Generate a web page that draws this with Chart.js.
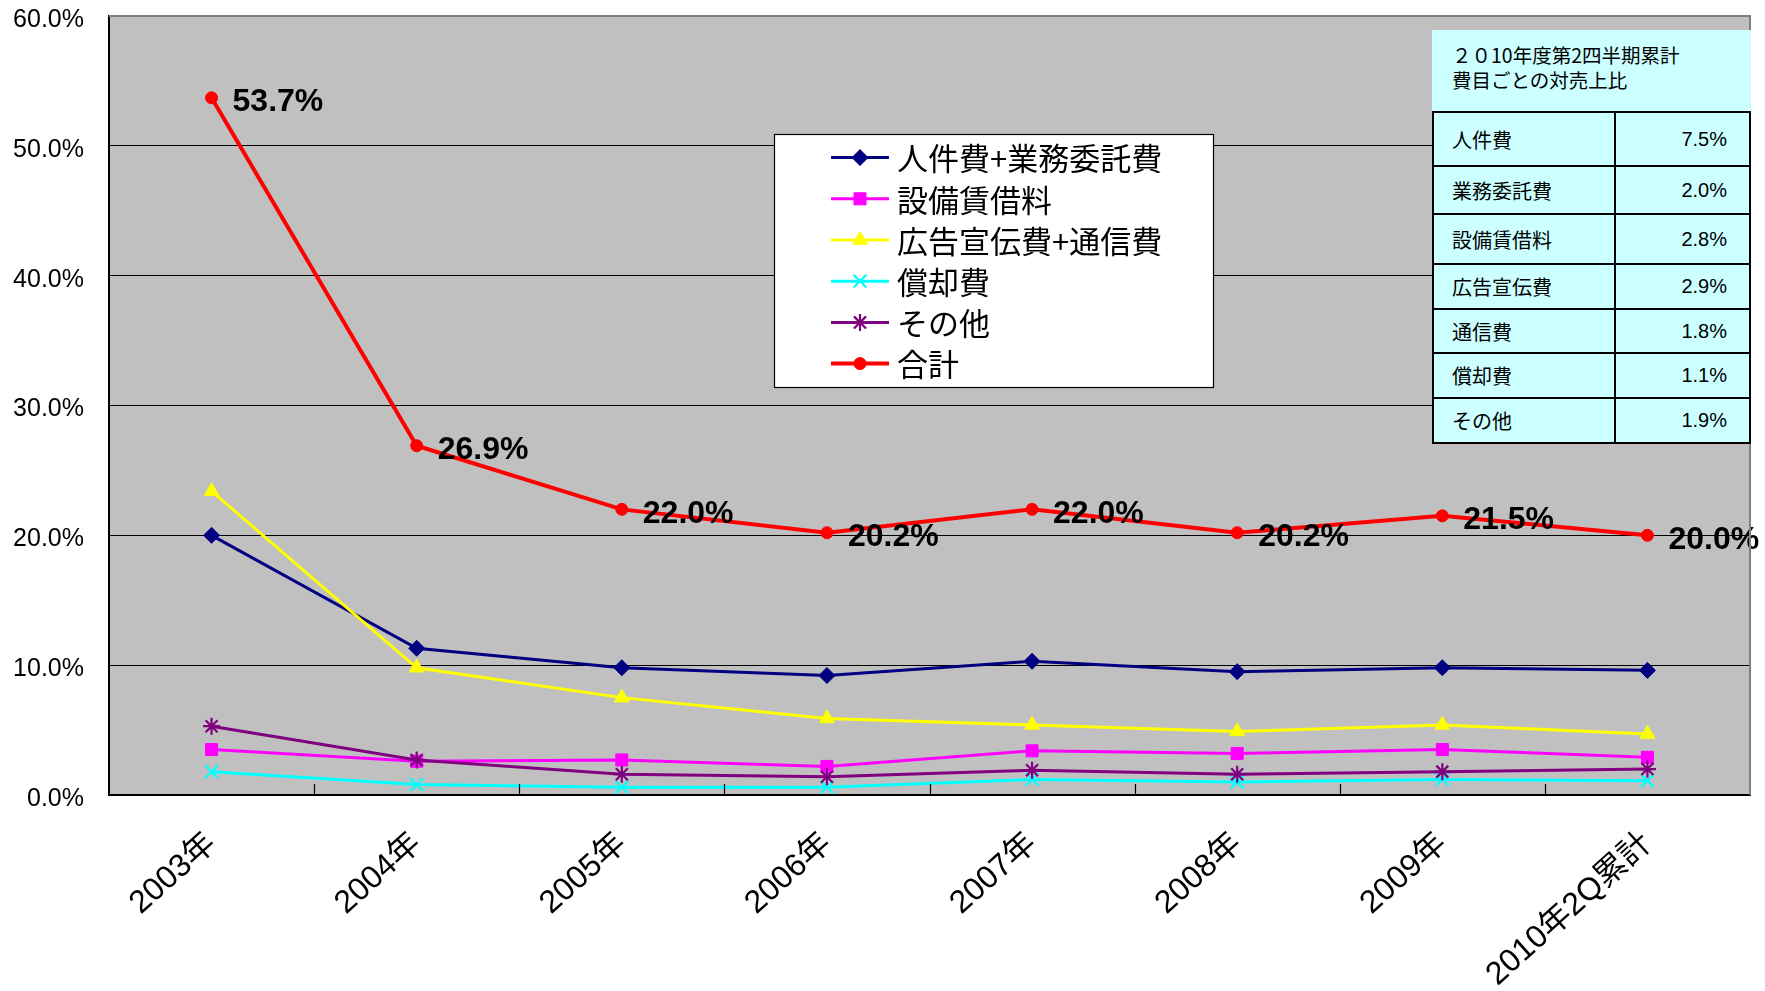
<!DOCTYPE html>
<html><head><meta charset="utf-8">
<script src="https://cdn.jsdelivr.net/npm/chart.js@4.4.1/dist/chart.umd.min.js"></script>
<style>
html,body{margin:0;padding:0;background:#fff;}
#wrap{position:relative;width:1765px;height:991px;}
#c{position:absolute;left:0;top:0;}
#tbl{position:absolute;left:1432px;top:30px;width:319px;font-family:"Noto Sans CJK JP",sans-serif;color:#000;}
#hdr{background:#CCFFFF;height:81px;box-sizing:border-box;padding:12px 0 0 20px;font-size:19.5px;line-height:25px;}
table{border-collapse:collapse;width:319px;background:#CCFFFF;}
td{border:2px solid #000;font-size:20px;padding:0;}
td.l{padding-left:18px;width:162px;}
td.v{text-align:right;padding-right:22px;font-family:"Liberation Sans",Arial,sans-serif;font-size:20px;}
</style></head><body>
<div id="wrap">
<canvas id="c" width="1765" height="991"></canvas>
<div id="tbl"><div id="hdr">２０10年度第2四半期累計<br>費目ごとの対売上比</div><table id="t"></table></div>
</div>
<script>
const categories = ["2003年","2004年","2005年","2006年","2007年","2008年","2009年","2010年2Q累計"];
const seriesNames = ["人件費+業務委託費","設備賃借料","広告宣伝費+通信費","償却費","その他","合計"];
const personnel = [20.0, 11.3, 9.8, 9.2, 10.3, 9.5, 9.8, 9.6];
const equipment = [3.5, 2.6, 2.7, 2.2, 3.4, 3.2, 3.5, 2.9];
const advertising = [23.4, 9.8, 7.5, 5.9, 5.4, 4.9, 5.4, 4.7];
const depreciation = [1.8, 0.8, 0.6, 0.6, 1.2, 1.0, 1.2, 1.1];
const others = [5.3, 2.7, 1.6, 1.4, 1.9, 1.6, 1.8, 2.0];
const total = [53.7, 26.9, 22.0, 20.2, 22.0, 20.2, 21.5, 20.0];
const yTicks = [0, 10, 20, 30, 40, 50, 60];
const tableLabels = ["人件費","業務委託費","設備賃借料","広告宣伝費","通信費","償却費","その他"];
const tableValues = ["7.5%","2.0%","2.8%","2.9%","1.8%","1.1%","1.9%"];

// table
const rowH = [54,48,50,45,44,45,45];
const t = document.getElementById('t');
tableLabels.forEach((lab,i)=>{
  const tr = document.createElement('tr');
  tr.style.height = rowH[i]+'px';
  const a = document.createElement('td'); a.className='l'; a.textContent = lab;
  const b = document.createElement('td'); b.className='v'; b.textContent = tableValues[i];
  tr.appendChild(a); tr.appendChild(b); t.appendChild(tr);
});

const colors = ["#000080","#FF00FF","#FFFF00","#00FFFF","#800080","#FF0000"];
const styles = ["rectRot","rect","triangle","crossRot","star","circle"];
const radii = [8,8.5,8.5,9,8.5,6];
const widths = [3,3,3,3,3,4];
const pbw = [1,1,1,2.2,2.2,1];
const allData = [personnel, equipment, advertising, depreciation, others, total];

const datasets = allData.map((d,i)=>({
  label: seriesNames[i], data: d,
  borderColor: colors[i], backgroundColor: colors[i],
  pointBorderColor: colors[i], pointBackgroundColor: colors[i],
  borderWidth: widths[i], pointStyle: styles[i], pointRadius: radii[i],
  pointBorderWidth: pbw[i],
  tension: 0, order: 6-i
}));

const bgPlugin = {
  id:'bg',
  beforeDraw(chart){
    const {ctx, chartArea:a} = chart;
    ctx.save(); ctx.fillStyle='#C0C0C0';
    ctx.fillRect(a.left,a.top,a.right-a.left,a.bottom-a.top);
    ctx.restore();
  },
  afterDraw(chart){
    const {ctx, chartArea:a} = chart;
    ctx.save();
    ctx.strokeStyle='#808080'; ctx.lineWidth=2;
    ctx.beginPath(); ctx.moveTo(a.left,a.top); ctx.lineTo(a.right,a.top); ctx.lineTo(a.right,a.bottom); ctx.stroke();
    const xs = chart.scales.x;
    const sp = xs.getPixelForValue(1)-xs.getPixelForValue(0);
    ctx.strokeStyle='#000'; ctx.lineWidth=1.2;
    for(let i=1;i<categories.length;i++){
      const x = Math.round(xs.getPixelForValue(i)-sp/2)+0.5;
      ctx.beginPath(); ctx.moveTo(x,a.bottom); ctx.lineTo(x,a.bottom-11); ctx.stroke();
    }
    ctx.restore();
  }
};

const labelPlugin = {
  id:'lbl',
  afterDatasetsDraw(chart){
    const ctx = chart.ctx;
    const meta = chart.getDatasetMeta(5);
    ctx.save();
    ctx.font = 'bold 32px "Liberation Sans", Arial, sans-serif';
    ctx.fillStyle='#000'; ctx.textAlign='left'; ctx.textBaseline='middle';
    meta.data.forEach((p,i)=>{
      ctx.fillText(total[i].toFixed(1)+'%', p.x+21, p.y+4.5);
    });
    ctx.restore();
  }
};

const legendPlugin = {
  id:'leg',
  afterDraw(chart){
    const ctx = chart.ctx;
    const bx=774, by=134, bw=439, bh=253;
    ctx.save();
    ctx.fillStyle='#fff'; ctx.fillRect(bx,by,bw,bh);
    ctx.strokeStyle='#000'; ctx.lineWidth=1.2; ctx.strokeRect(bx+0.5,by+0.5,bw,bh);
    ctx.font = '31px "Noto Sans CJK JP", sans-serif';
    ctx.textBaseline='middle'; ctx.textAlign='left';
    seriesNames.forEach((n,i)=>{
      const y = 157.6 + i*41.2;
      ctx.strokeStyle=colors[i]; ctx.lineWidth=widths[i];
      ctx.beginPath(); ctx.moveTo(831,y); ctx.lineTo(889,y); ctx.stroke();
      ctx.fillStyle=colors[i]; ctx.strokeStyle=colors[i];
      ctx.lineWidth=pbw[i];
      Chart.helpers.drawPoint(ctx,{pointStyle:styles[i],radius:radii[i],borderWidth:pbw[i],rotation:0},860,y);
      ctx.fillStyle='#000';
      ctx.fillText(n,897,y+1);
    });
    ctx.restore();
  }
};

new Chart(document.getElementById('c'),{
  type:'line',
  data:{labels:categories, datasets},
  options:{
    responsive:false, animation:false,
    layout:{padding:{top:16,right:15,left:0,bottom:0}},
    plugins:{legend:{display:false}, tooltip:{enabled:false}},
    scales:{
      x:{
        offset:true,
        grid:{display:false, drawTicks:false},
        border:{color:'#000', width:2},
        ticks:{color:'#000', autoSkip:false, maxRotation:42, minRotation:42, padding:30,
          font:{family:'"Liberation Sans", "Noto Sans CJK JP", sans-serif', size:32}},
        afterFit(s){ s.height = 196; }
      },
      y:{
        min:0, max:60,
        afterBuildTicks(s){ s.ticks = yTicks.map(v=>({value:v})); },
        grid:{color:'#000', lineWidth:1, drawTicks:true, tickLength:25, tickColor:'rgba(0,0,0,0)'},
        border:{color:'#000', width:2},
        ticks:{color:'#000', padding:0, labelOffset:4, callback:v=>v.toFixed(1)+'%',
          font:{family:'"Liberation Sans", Arial, sans-serif', size:25}},
        afterFit(s){ s.width = 109; }
      }
    }
  },
  plugins:[bgPlugin, labelPlugin, legendPlugin]
});
</script>
</body></html>
